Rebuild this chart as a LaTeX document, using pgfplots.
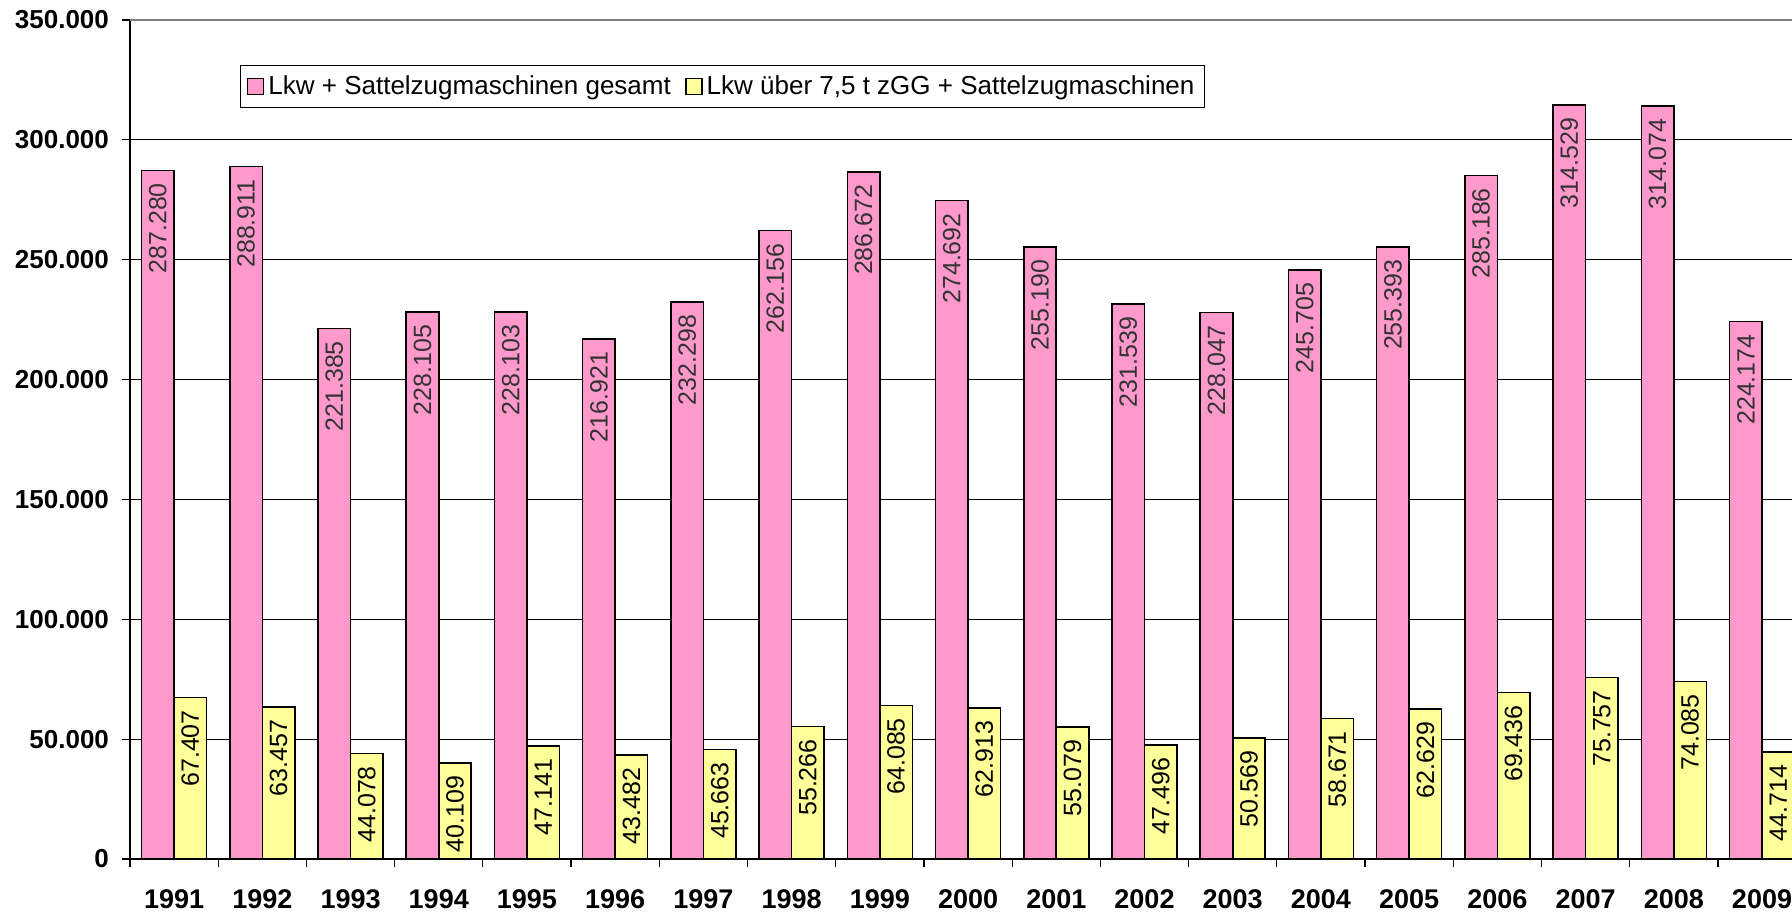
\documentclass[border=0pt]{standalone}
\usepackage{fontspec}
\setmainfont{Liberation Sans}
\usepackage{pgfplots}
\pgfplotsset{compat=1.18}
\usetikzlibrary{calc}
\definecolor{pinkbar}{HTML}{FF99CC}
\definecolor{yellowbar}{HTML}{FFFF99}
\begin{document}
\begin{tikzpicture}
\begin{axis}[
  scale only axis, width=831pt, height=419.5pt,
  ybar=0pt, bar width=16.25pt,
  xmin=-0.5, xmax=18.34, ymin=0, ymax=350000,
  axis x line*=bottom, axis y line*=left,
  axis line style={-, black, line width=0.8pt},
  xtick={0,...,18},
  xticklabels={1991,1992,1993,1994,1995,1996,1997,1998,1999,2000,2001,2002,2003,2004,2005,2006,2007,2008,2009},
  major x tick style={draw=none},
  minor xtick={-0.5,0.5,...,18.5},
  minor x tick style={black, line width=0.6pt},
  minor tick length=4pt,
  ytick={0,50000,100000,150000,200000,250000,300000},
  extra y ticks={350000},
  extra y tick style={grid style={gray, line width=1.2pt}},
  ymajorgrids, grid style={black, line width=0.5pt},
  tick align=outside, major tick length=4pt,
  y tick style={black, line width=0.6pt},
  yticklabel style={font=\bfseries\fontsize{13}{15}\selectfont, xshift=-3pt},
  xticklabel style={font=\bfseries\fontsize{13.5}{15}\selectfont, yshift=-8pt},
  scaled y ticks=false,
  /pgf/number format/.cd, fixed, precision=0, 1000 sep={.}, assume math mode=true, /pgfplots/.cd,
  nodes near coords,
  every node near coord/.append style={rotate=90, anchor=east, font=\fontsize{12.5}{15}\selectfont, inner xsep=6pt},
  legend columns=2,
  legend style={at={(0.0662,0.9464)}, anchor=north west, draw=black, line width=0.6pt,
    font=\fontsize{13}{15}\selectfont, inner ysep=3pt, inner xsep=3pt,
    /tikz/every even column/.append style={column sep=5pt}},
  legend image code/.code={\draw[#1, line width=0.9pt] (0pt,-4pt) rectangle (8pt,4pt);},
]
\addplot[fill=pinkbar, draw=black, line width=0.8pt,
  every node near coord/.append style={color=black!80}] coordinates {
(0,287280) (1,288911) (2,221385) (3,228105) (4,228103) (5,216921) (6,232298) (7,262156) (8,286672) (9,274692)
(10,255190) (11,231539) (12,228047) (13,245705) (14,255393) (15,285186) (16,314529) (17,314074) (18,224174)};
\addplot[fill=yellowbar, draw=black, line width=0.8pt,
  every node near coord/.append style={color=black}] coordinates {
(0,67407) (1,63457) (2,44078) (3,40109) (4,47141) (5,43482) (6,45663) (7,55266) (8,64085) (9,62913)
(10,55079) (11,47496) (12,50569) (13,58671) (14,62629) (15,69436) (16,75757) (17,74085) (18,44714)};
\legend{Lkw + Sattelzugmaschinen gesamt, {Lkw über 7{,}5 t zGG + Sattelzugmaschinen}}
\end{axis}
\pgfresetboundingbox
\useasboundingbox ($(current axis.south west)+(-65pt,-28.5pt)$) rectangle ($(current axis.north east)+(0pt,10pt)$);
\end{tikzpicture}
\end{document}
